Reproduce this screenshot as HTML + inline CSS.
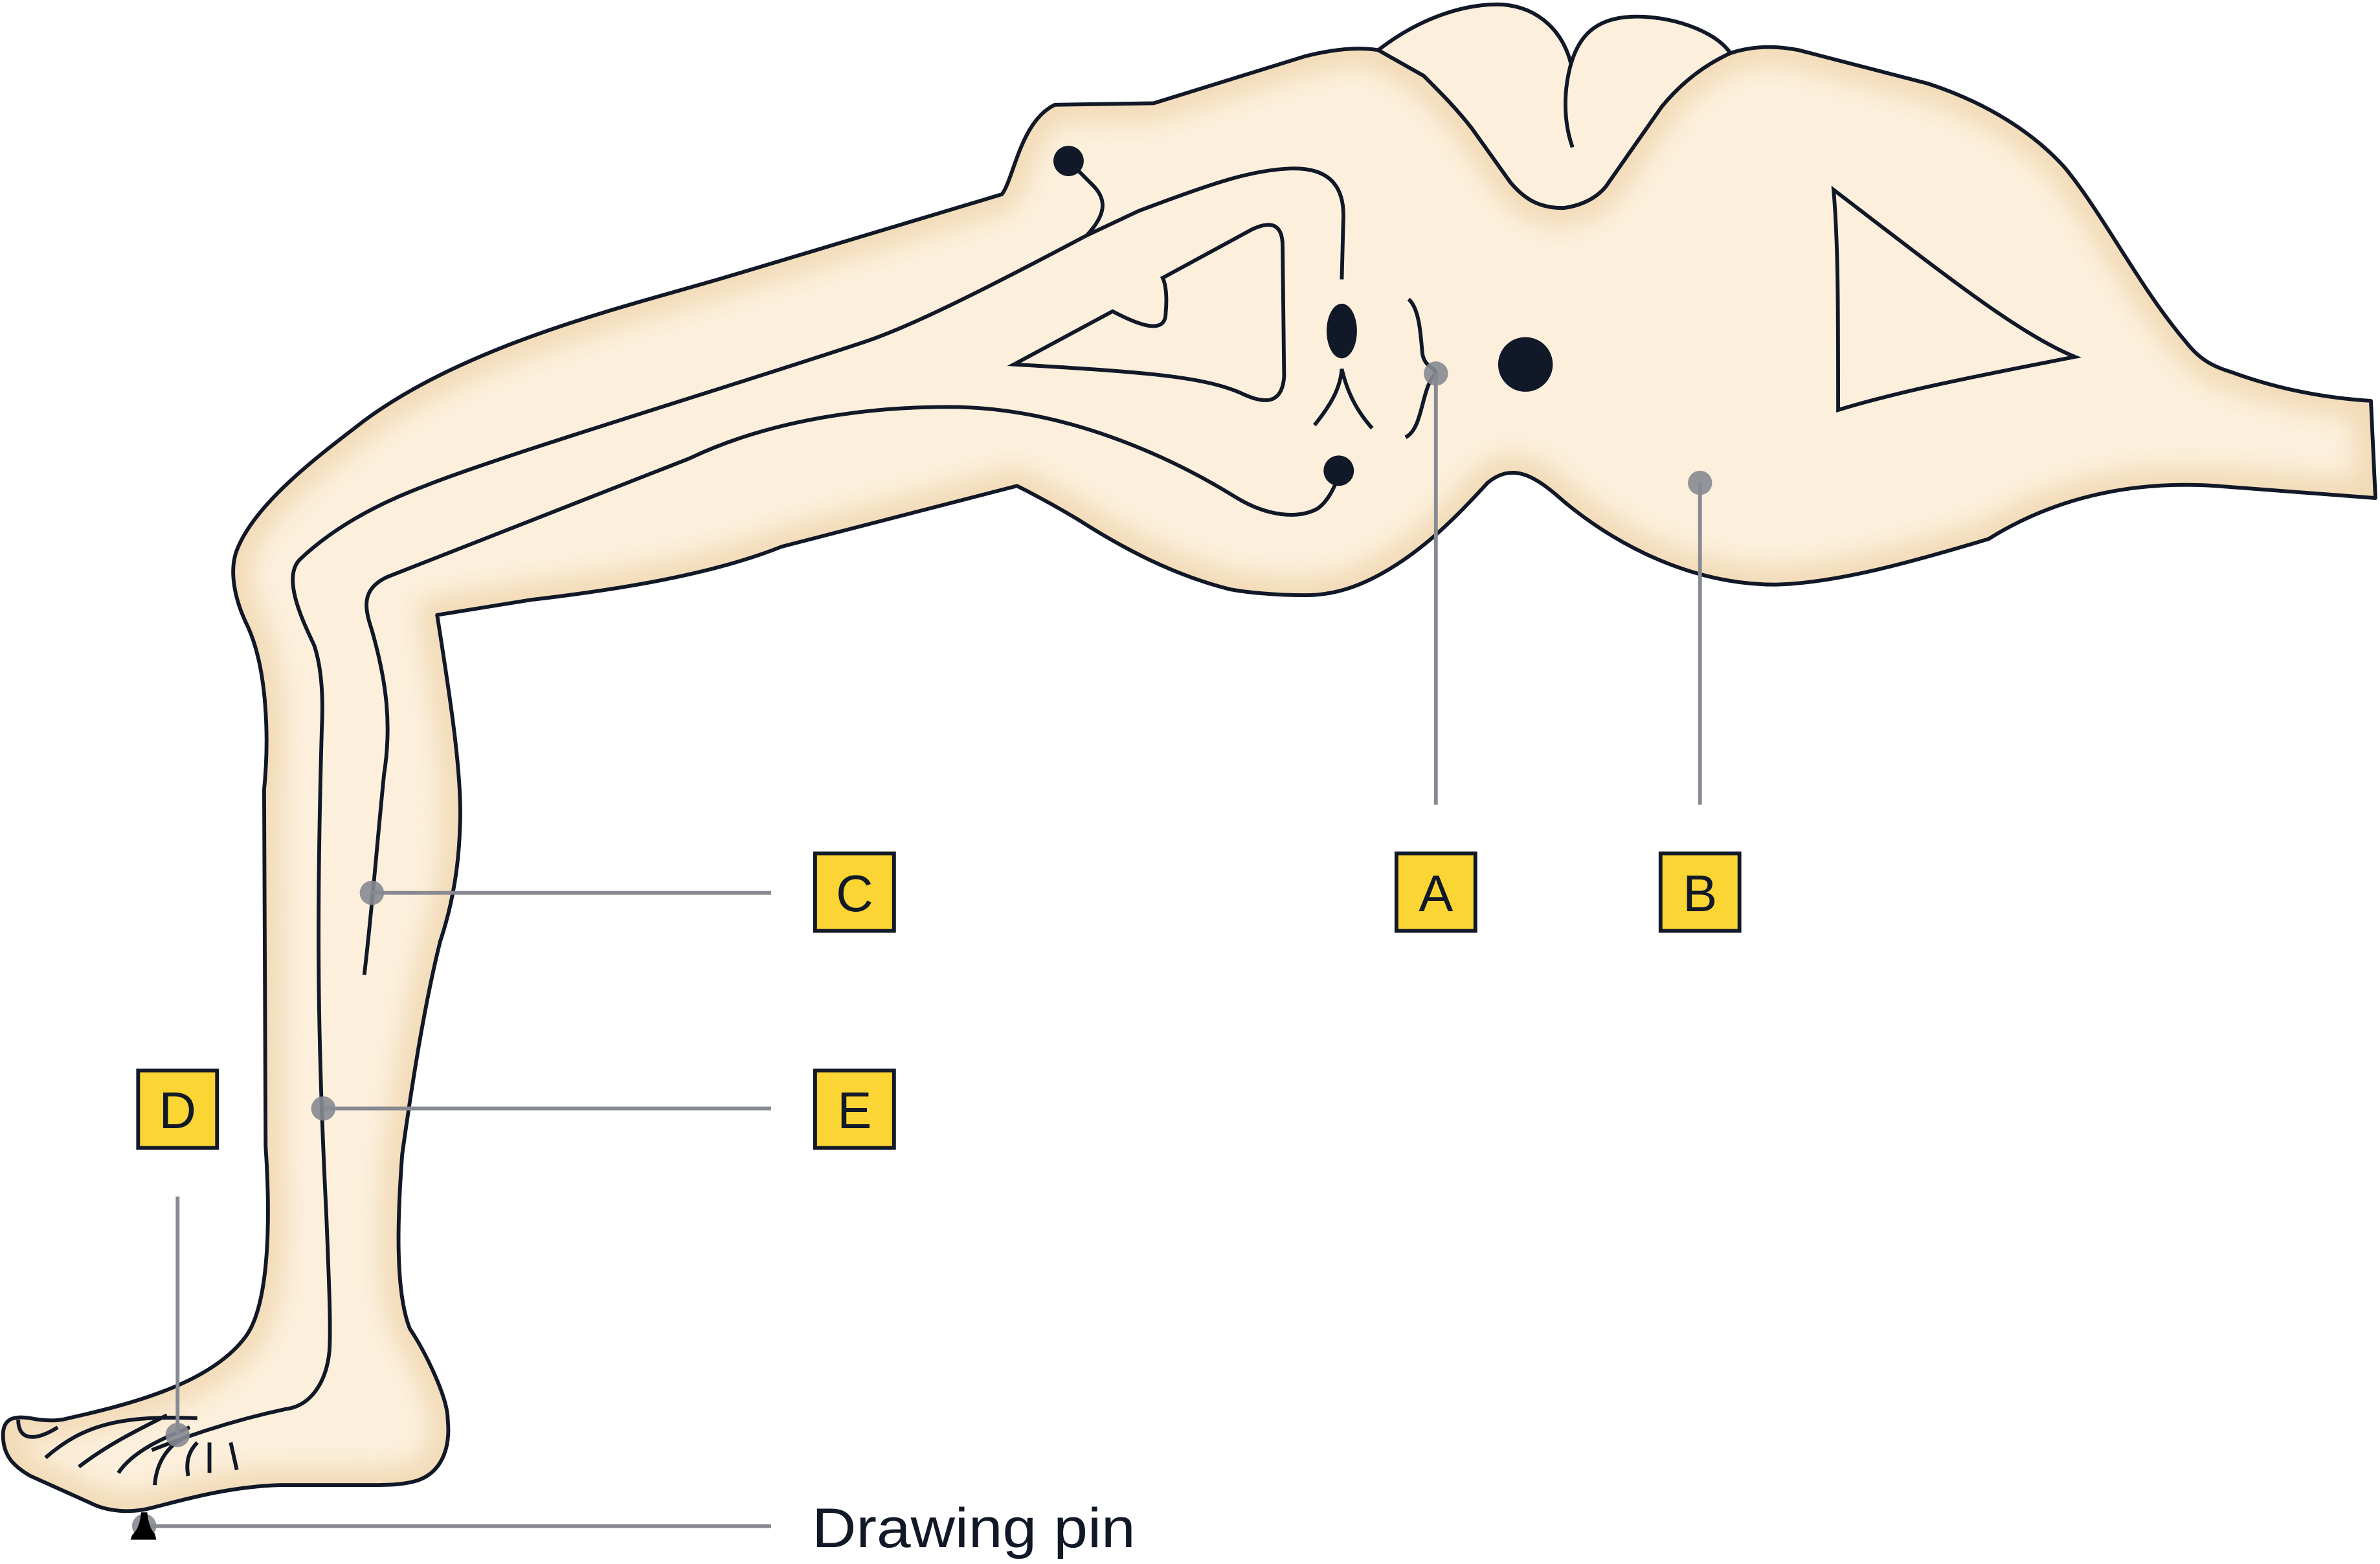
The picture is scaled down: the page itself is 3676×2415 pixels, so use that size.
<!DOCTYPE html>
<html><head><meta charset="utf-8"><style>
html,body{margin:0;padding:0;background:#fff;}
svg{display:block;}
</style></head><body>
<svg width="3676" height="2415" viewBox="0 0 1568 1030" preserveAspectRatio="none" xmlns="http://www.w3.org/2000/svg">
<defs>
<filter id="bl" x="-10%" y="-10%" width="120%" height="120%"><feGaussianBlur stdDeviation="9"/></filter>
<clipPath id="cp"><path id="outl" d="M660,128 C668,118 672,80 695,69 L760,68 L860,37 C880,32 895,31 908,33 L938,50 C950,62 960,72 970,85 L995,120 C1005,132 1015,137 1030,137 C1045,135 1055,128 1060,120 L1095,70 C1110,52 1125,42 1140,35 C1155,30 1170,30 1185,33 L1270,55 C1310,68 1340,88 1360,110 C1385,140 1410,190 1440,225 C1450,238 1460,242 1470,245 C1500,256 1530,262 1562,264 L1565,328 L1460,320 C1400,316 1350,330 1310,355 C1260,370 1210,384 1170,385 C1110,385 1060,355 1030,330 C1010,312 996,305 980,318 C960,340 940,360 915,375 C895,387 878,392 860,392 C840,392 820,390 810,388 C770,378 735,358 710,342 C695,333 680,325 670,320 L515,360 C470,378 410,388 350,395 L288,405 C295,450 305,510 303,545 C302,580 295,605 290,620 C280,660 272,710 265,760 C262,800 260,850 270,875 C280,890 295,920 295,935 C297,955 290,970 275,975 C265,978 255,978 245,978 L185,978 C150,979 120,988 100,993 C85,997 70,995 60,990 L20,972 C8,965 2,958 2,945 C2,935 8,932 20,934 C30,936 38,936 45,934 C90,924 140,910 162,880 C178,858 178,800 175,755 L174,520 C177,490 177,440 162,410 C155,395 150,375 157,360 C170,330 210,300 240,277 C310,225 420,200 480,182 Z"/></clipPath>
</defs>
<rect width="1568" height="1030" fill="#fff"/>
<path d="M908,33 C935,12 965,2 990,3 C1015,5 1030,22 1035,42 C1040,25 1050,12 1075,11 C1100,10 1130,20 1140,35 L1140,35 C1125,42 1110,52 1095,70 L1060,120 C1055,128 1045,135 1030,137 C1015,137 1005,132 995,120 L970,85 C960,72 950,62 938,50 Z" fill="#fcf0dc" stroke="#111827" stroke-width="2.5" stroke-linejoin="round"/>
<use href="#outl" fill="#fcf0dd"/>
<g clip-path="url(#cp)"><use href="#outl" fill="none" stroke="#f1d8b2" stroke-width="22" filter="url(#bl)"/></g>
<use href="#outl" fill="none" stroke="#111827" stroke-width="2.5" stroke-linejoin="round"/>
<g fill="none" stroke="#111827" stroke-width="2.5" stroke-linecap="butt">
<path d="M1035,42 C1030,60 1030,80 1036,97"/>
<path d="M704,106 L720,122 C730,132 728,142 716,155"/>
<path d="M716,155 C650,190 600,215 570,225 C480,255 330,300 280,320 C240,335 215,352 198,368 C185,380 200,410 207,425 C212,440 213,460 212,480 C208,620 210,700 215,800 C217,850 218,875 217,890 C215,910 205,926 188,928 C160,934 130,943 100,955"/>
<path d="M716,155 L750,139 C800,120 825,112 850,111 C878,110 886,125 885,145 L884,184"/>
<path d="M454,302 L255,380 C238,388 240,400 245,415 C255,450 258,478 253,510 C248,560 245,600 240,642"/>
<path d="M454,302 C500,280 560,268 625,268 C700,268 770,300 815,328 C835,340 855,342 868,335 C875,330 880,320 882,312"/>
<path d="M668,240 L733,205 C750,214 768,221 768,206 C769,195 768,187 766,183 L825,151 C838,145 845,148 845,162 L846,248 C845,262 838,268 820,260 C795,248 755,245 668,240 Z"/>
<path d="M1208,125 C1280,180 1330,220 1367,235 C1300,248 1250,258 1211,270 C1211,200 1211,160 1208,125 Z"/>
<path d="M866,280 C878,265 883,255 884,243 C888,260 895,272 904,282"/>
<path d="M928,197 C935,203 936,220 937,232 C938,242 946,242 946,246 C936,255 938,282 926,288"/>
<path d="M12,935 C12,948 22,950 38,940"/>
<path d="M30,960 C55,938 80,932 130,934"/>
<path d="M52,966 C70,952 90,942 110,932"/>
<path d="M78,970 C88,955 110,946 125,940"/>
<path d="M102,978 C103,962 112,950 125,945"/>
<path d="M124,972 C122,962 125,955 130,950"/>
<path d="M138,970 L138,950"/>
<path d="M156,968 L152,950"/>
</g>
<g fill="#111827">
<circle cx="704" cy="106" r="10"/>
<circle cx="882" cy="310" r="10"/>
<ellipse cx="884" cy="218" rx="10" ry="18"/>
<circle cx="1005" cy="240" r="18"/>
</g>
<g stroke="#878a92" stroke-width="2.5" fill="none">
<path d="M245,588 H508"/><path d="M213,730 H508"/>
<path d="M946,246 V530"/><path d="M1120,318 V530"/>
<path d="M117,788 V945"/><path d="M95,1005 H508"/>
</g>
<g fill="#878a92" opacity="0.9">
<circle cx="245" cy="588" r="8"/><circle cx="213" cy="730" r="8"/>
<circle cx="946" cy="246" r="8"/><circle cx="1120" cy="318" r="8"/>
<circle cx="117" cy="945" r="8"/><circle cx="95" cy="1005" r="8"/>
</g>
<path d="M93,996 L97,996 C98,1005 100,1008 102,1010 L103,1014 L86,1014 L87,1011 C90,1008 92,1005 93,996 Z" fill="#000"/>
<g stroke="#111827" stroke-width="2.5" fill="#fad534">
<rect x="537" y="562" width="52" height="51"/>
<rect x="920" y="562" width="52" height="51"/>
<rect x="1094" y="562" width="52" height="51"/>
<rect x="91" y="705" width="52" height="51"/>
<rect x="537" y="705" width="52" height="51"/>
</g>
<g font-family="Liberation Sans, sans-serif" font-size="34" fill="#111827" text-anchor="middle">
<text x="563" y="600">C</text>
<text x="946" y="600">A</text>
<text x="1120" y="600">B</text>
<text x="117" y="743">D</text>
<text x="563" y="743">E</text>
<text x="535" y="1019" text-anchor="start" font-size="37" textLength="213" lengthAdjust="spacingAndGlyphs">Drawing pin</text>
</g>
</svg>
</body></html>
